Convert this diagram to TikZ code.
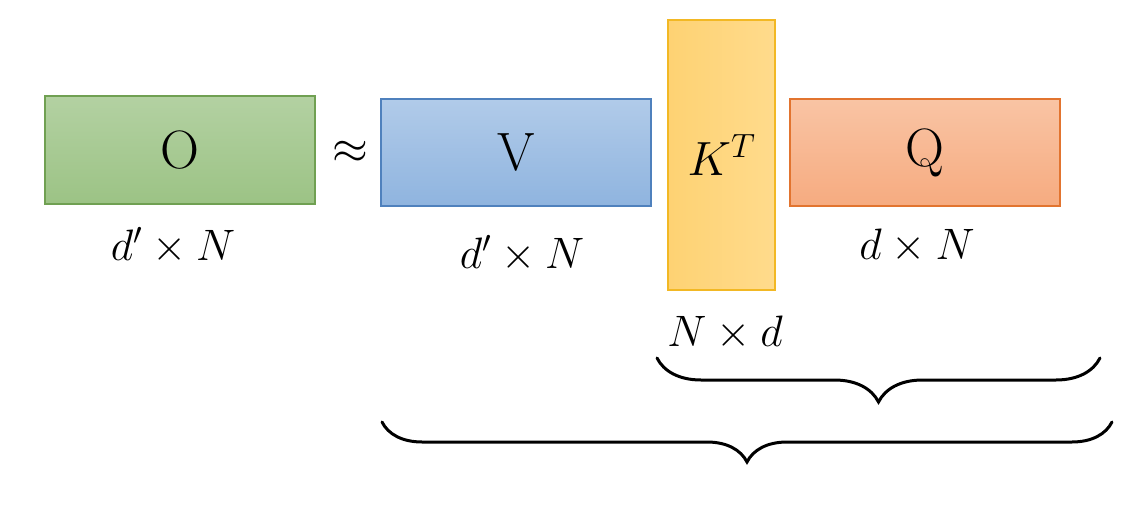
\documentclass[tikz,border=0pt]{standalone}
\usepackage{fix-cm}
\usepackage{xcolor}
\usepackage{amsmath}
\usepackage{amssymb}
\usepackage{tikz}
\usetikzlibrary{decorations.pathreplacing}

\definecolor{oTop}{HTML}{B3D1A2}
\definecolor{oBot}{HTML}{9CC385}
\definecolor{oLine}{HTML}{70A052}
\definecolor{vTop}{HTML}{B1CBE9}
\definecolor{vBot}{HTML}{8FB4DF}
\definecolor{vLine}{HTML}{4F81BD}
\definecolor{kLeft}{HTML}{FED273}
\definecolor{kRight}{HTML}{FFDB8C}
\definecolor{kLine}{HTML}{F2B824}
\definecolor{qTop}{HTML}{F9C4A4}
\definecolor{qBot}{HTML}{F6AB80}
\definecolor{qLine}{HTML}{E2742F}

\tikzset{
    matbox/.style={rectangle,inner sep=0pt,line width=1.3pt,
        font=\fontsize{54}{62}\selectfont},
    dimlabel/.style={inner sep=0pt,font=\fontsize{44}{52}\selectfont},
    underbrace/.style={decorate,decoration={brace,mirror,amplitude=#1},
        line width=3pt,line cap=round}
}

\begin{document}
\begin{tikzpicture}[x=1pt,y=-1pt]
        \useasboundingbox (0,0) rectangle (1130,519);
        % the four matrices
        \node[matbox,draw=oLine,top color=oTop,bottom color=oBot,
            minimum width=270pt,minimum height=108pt] (O) at (180,150) {O};
        \node[inner sep=0pt,font=\fontsize{46}{54}\selectfont] (approx) at (350,152) {$\approx$};
        \node[matbox,draw=vLine,top color=vTop,bottom color=vBot,
            minimum width=270pt,minimum height=107pt] (V) at (516,152.5) {V};
        \node[matbox,draw=kLine,left color=kLeft,right color=kRight,
            minimum width=107pt,minimum height=270pt,font=\fontsize{48}{56}\selectfont] (KT) at (721.5,155) {$K^T$};
        \node[matbox,draw=qLine,top color=qTop,bottom color=qBot,
            minimum width=270pt,minimum height=107pt] (Q) at (925,152.5) {Q};
        % sizes
        \node[dimlabel] (Osize) at (173,246) {$d' \times N$};
        \node[dimlabel] (Vsize) at (522,254) {$d' \times N$};
        \node[dimlabel] (Qsize) at (917,246) {$d \times N$};
        \node[dimlabel] (KTsize) at (725,333) {$N \times d$};
        % braces
        \coordinate (kqL) at (657,358);
        \coordinate (kqR) at (1100,358);
        \coordinate (allL) at (382,422);
        \coordinate (allR) at (1112,422);
        \draw[underbrace=44pt] (kqL) -- (kqR);
        \draw[underbrace=40pt] (allL) -- (allR);
    \end{tikzpicture}
\end{document}
